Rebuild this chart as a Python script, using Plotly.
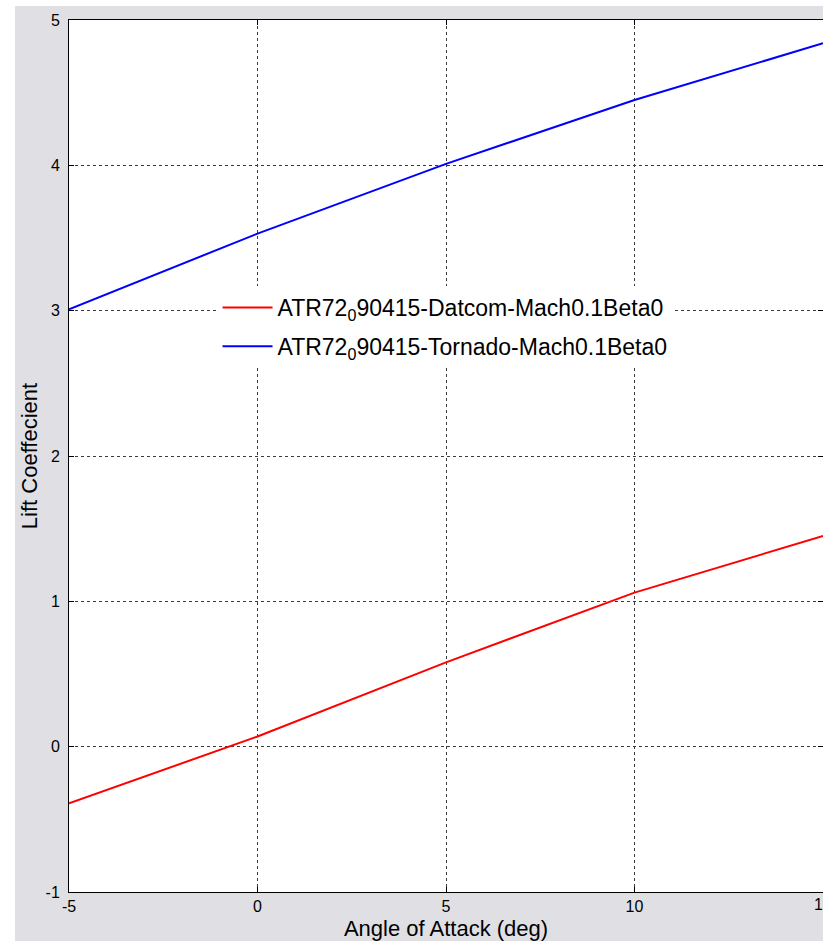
import plotly.graph_objects as go

alpha_deg = [-5, 0, 5, 10, 15]
cl_datcom = [-0.39, 0.07, 0.58, 1.06, 1.45]
cl_tornado = [3.01, 3.53, 4.01, 4.45, 4.84]
x_ticks = [-5, 0, 5, 10, 15]
x_ticktext = ["-5", "0", "5", "10", "15"]
y_ticks = [-1, 0, 1, 2, 3, 4, 5]
y_ticktext = ["-1", "0", "1", "2", "3", "4", "5"]
name_datcom = "ATR72<sub>0</sub>90415-Datcom-Mach0.1Beta0"
name_tornado = "ATR72<sub>0</sub>90415-Tornado-Mach0.1Beta0"

FONT = "Liberation Sans, Arial, sans-serif"

fig = go.Figure()
fig.add_trace(go.Scatter(x=alpha_deg, y=cl_datcom, mode="lines", name=name_datcom,
                         legendgroup="a", line=dict(color="#ff0000", width=2)))
fig.add_trace(go.Scatter(x=alpha_deg, y=cl_tornado, mode="lines", name=name_tornado,
                         legendgroup="b", line=dict(color="#0000ff", width=2)))

axis_common = dict(
    showline=True, linecolor="#000000", linewidth=1, mirror="ticks",
    ticks="inside", ticklen=5, tickcolor="#000000",
    showgrid=True, gridcolor="#3a3a3a", gridwidth=1, griddash="3px,3px",
    zeroline=False, automargin=False,
    tickfont=dict(family=FONT, size=16, color="#000000"),
)

fig.update_xaxes(range=[-5, 15], tickvals=x_ticks, ticktext=x_ticktext, ticklabelstandoff=0,
                 title=dict(text="Angle of Attack (deg)", standoff=6,
                            font=dict(family=FONT, size=22, color="#000000")),
                 **axis_common)
fig.update_yaxes(range=[-1, 5], tickvals=y_ticks, ticktext=y_ticktext, ticklabelstandoff=5,
                 title=dict(text="Lift Coeffecient", standoff=1,
                            font=dict(family=FONT, size=22, color="#000000")),
                 **axis_common)

# last x tick label sits on the (cropped) right edge of the figure
fig.add_annotation(x=x_ticks[-1], y=0, xref="x", yref="paper", text=x_ticktext[-1],
                   showarrow=False, xanchor="center", yanchor="top", yshift=-2,
                   font=dict(family=FONT, size=16, color="#000000"))

fig.update_layout(
    width=823, height=941,
    margin=dict(l=69, r=0, t=20, b=49),
    paper_bgcolor="#e0e0e4", plot_bgcolor="#ffffff",
    showlegend=True,
    legend=dict(x=0.197, y=0.695, xanchor="left", yanchor="top",
                bgcolor="#ffffff", borderwidth=0, traceorder="grouped",
                font=dict(family=FONT, size=23, color="#000000"),
                tracegroupgap=6, itemwidth=50),
    shapes=[
        dict(type="rect", xref="paper", yref="paper", x0=-0.2, x1=(15 - 69) / 754,
             y0=-0.2, y1=1.2, fillcolor="#ffffff", line=dict(width=0), layer="above"),
        dict(type="rect", xref="paper", yref="paper", x0=-0.2, x1=1.2,
             y0=(892 - 6) / 872, y1=1.2, fillcolor="#ffffff", line=dict(width=0), layer="above"),
    ],
)

fig.write_html("out.html", config={"displayModeBar": False},
               post_script="document.body.style.margin='0';document.body.style.overflow='hidden';")
